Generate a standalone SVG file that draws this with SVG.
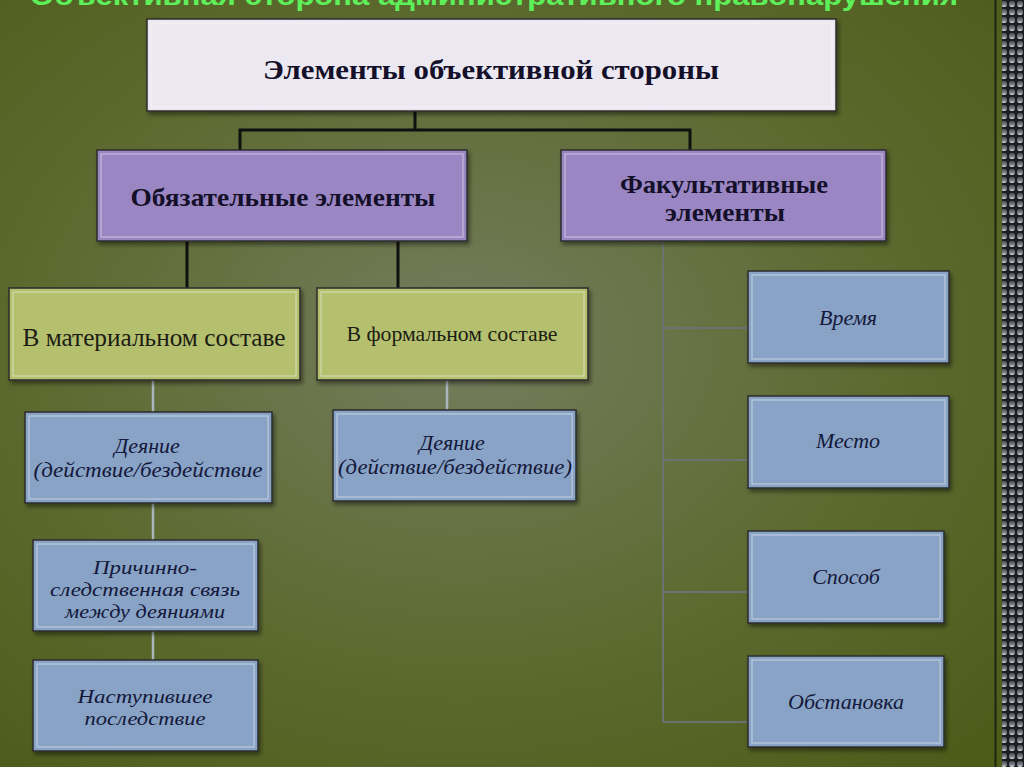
<svg xmlns="http://www.w3.org/2000/svg" width="1024" height="767" viewBox="0 0 1024 767">
<defs>
<radialGradient id="bg" cx="0.45" cy="0.45" r="0.75">
<stop offset="0" stop-color="#747d5e"/>
<stop offset="0.55" stop-color="#5d6a30"/>
<stop offset="1" stop-color="#4c5b18"/>
</radialGradient>
<linearGradient id="side" x1="0" y1="0" x2="0" y2="1">
<stop offset="0" stop-color="#50545c"/>
<stop offset="0.6" stop-color="#7a7e86"/>
<stop offset="1" stop-color="#eef0f2"/>
</linearGradient>
<pattern id="dots" width="8" height="8" patternUnits="userSpaceOnUse">
<rect width="8" height="8" fill="#1c1e22"/>
<circle cx="4" cy="4" r="3" fill="url(#side)"/>
</pattern>
<filter id="sh" x="-5%" y="-5%" width="112%" height="120%">
<feDropShadow dx="2" dy="3" stdDeviation="2" flood-color="#000" flood-opacity="0.45"/>
</filter>
</defs>
<style>
.box{stroke:#2b2b2b;stroke-width:1.5;filter:url(#sh)}
.hl{fill:none;stroke:#ffffff;stroke-opacity:0.35;stroke-width:1.5}
.w{fill:#ebe8f1}
.p{fill:#9a86c2}
.g{fill:#b4c06e}
.b{fill:#88a3c6}
.tb{font-family:"Liberation Serif",serif;font-weight:bold;fill:#14102a;text-anchor:middle}
.tg{font-family:"Liberation Serif",serif;fill:#1c1c14;text-anchor:middle}
.ti{font-family:"Liberation Serif",serif;font-style:italic;fill:#14183a;text-anchor:middle;font-size:22px}
.tm{font-family:"Liberation Serif",serif;font-style:italic;fill:#14183a;text-anchor:middle;font-size:19px}
.blk{stroke:#101010;stroke-width:3;fill:none}
.lb{stroke:#a9b7bd;stroke-width:2.5;fill:none}
.gr{stroke:#6b7272;stroke-width:2;fill:none}
</style>
<rect width="1024" height="767" fill="url(#bg)"/>
<rect x="1002" y="0" width="22" height="767" fill="url(#dots)"/>
<line x1="995.5" y1="0" x2="995.5" y2="767" stroke="#1e2410" stroke-width="2"/>
<text x="494" y="5" font-family="Liberation Sans,sans-serif" font-weight="bold" font-size="28" fill="#5ef05a" text-anchor="middle" textLength="928" lengthAdjust="spacingAndGlyphs">Объективная сторона административного правонарушения</text>

<g id="connectors">
<path class="blk" d="M415 111 V130 M240 150 V130 H690 V150"/>
<path class="blk" d="M187 241 V288 M398 241 V288"/>
<path class="lb" d="M153 380 V412 M153 503 V540 M153 631 V660 M447 380 V410"/>
<path class="gr" d="M663 241 V722 M663 328 H748 M663 460 H748 M663 592 H748 M663 722 H748"/>
</g>

<g id="n-top">
<rect class="box w" x="147" y="19" width="689" height="92"/>
<rect class="hl" x="151" y="23" width="681" height="84"/>
<text class="tb" x="491" y="79" font-size="28" textLength="456" lengthAdjust="spacingAndGlyphs">Элементы объективной стороны</text>
</g>
<g id="n-mandatory">
<rect class="box p" x="97" y="150" width="370" height="91"/>
<rect class="hl" x="101" y="154" width="362" height="83"/>
<text class="tb" x="283" y="206" font-size="26" textLength="305" lengthAdjust="spacingAndGlyphs">Обязательные элементы</text>
</g>
<g id="n-optional">
<rect class="box p" x="561" y="150" width="325" height="91"/>
<rect class="hl" x="565" y="154" width="317" height="83"/>
<text class="tb" x="724" y="193" font-size="25" textLength="208" lengthAdjust="spacingAndGlyphs">Факультативные</text>
<text class="tb" x="725" y="221" font-size="25" textLength="120" lengthAdjust="spacingAndGlyphs">элементы</text>
</g>
<g id="n-material">
<rect class="box g" x="9" y="288" width="291" height="92"/>
<rect class="hl" x="13" y="292" width="283" height="84"/>
<text class="tg" x="154" y="346" font-size="25" textLength="263" lengthAdjust="spacingAndGlyphs">В материальном составе</text>
</g>
<g id="n-formal">
<rect class="box g" x="317" y="288" width="271" height="92"/>
<rect class="hl" x="321" y="292" width="263" height="84"/>
<text class="tg" x="452" y="341" font-size="22" textLength="211" lengthAdjust="spacingAndGlyphs">В формальном составе</text>
</g>
<g id="n-act1">
<rect class="box b" x="25" y="412" width="247" height="91"/>
<rect class="hl" x="29" y="416" width="239" height="83"/>
<text class="ti" x="147" y="453">Деяние</text>
<text class="ti" x="148" y="477" textLength="229" lengthAdjust="spacingAndGlyphs">(действие/бездействие</text>
</g>
<g id="n-act2">
<rect class="box b" x="333" y="410" width="243" height="91"/>
<rect class="hl" x="337" y="414" width="235" height="83"/>
<text class="ti" x="452" y="450">Деяние</text>
<text class="ti" x="455" y="474" textLength="234" lengthAdjust="spacingAndGlyphs">(действие/бездействие)</text>
</g>
<g id="n-cause">
<rect class="box b" x="33" y="540" width="225" height="91"/>
<rect class="hl" x="37" y="544" width="217" height="83"/>
<text class="tm" x="145" y="574" textLength="104" lengthAdjust="spacingAndGlyphs">Причинно-</text>
<text class="tm" x="145" y="596" textLength="190" lengthAdjust="spacingAndGlyphs">следственная связь</text>
<text class="tm" x="145" y="618" textLength="160" lengthAdjust="spacingAndGlyphs">между деяниями</text>
</g>
<g id="n-result">
<rect class="box b" x="33" y="660" width="225" height="91"/>
<rect class="hl" x="37" y="664" width="217" height="83"/>
<text class="tm" x="145" y="703" textLength="135" lengthAdjust="spacingAndGlyphs">Наступившее</text>
<text class="tm" x="145" y="725" textLength="121" lengthAdjust="spacingAndGlyphs">последствие</text>
</g>
<g id="n-time">
<rect class="box b" x="748" y="271" width="201" height="92"/>
<rect class="hl" x="752" y="275" width="193" height="84"/>
<text class="ti" x="848" y="325">Время</text>
</g>
<g id="n-place">
<rect class="box b" x="748" y="396" width="201" height="92"/>
<rect class="hl" x="752" y="400" width="193" height="84"/>
<text class="ti" x="848" y="448">Место</text>
</g>
<g id="n-method">
<rect class="box b" x="748" y="531" width="196" height="92"/>
<rect class="hl" x="752" y="535" width="188" height="84"/>
<text class="ti" x="846" y="584">Способ</text>
</g>
<g id="n-setting">
<rect class="box b" x="748" y="656" width="196" height="91"/>
<rect class="hl" x="752" y="660" width="188" height="83"/>
<text class="ti" x="846" y="709">Обстановка</text>
</g>
</svg>
